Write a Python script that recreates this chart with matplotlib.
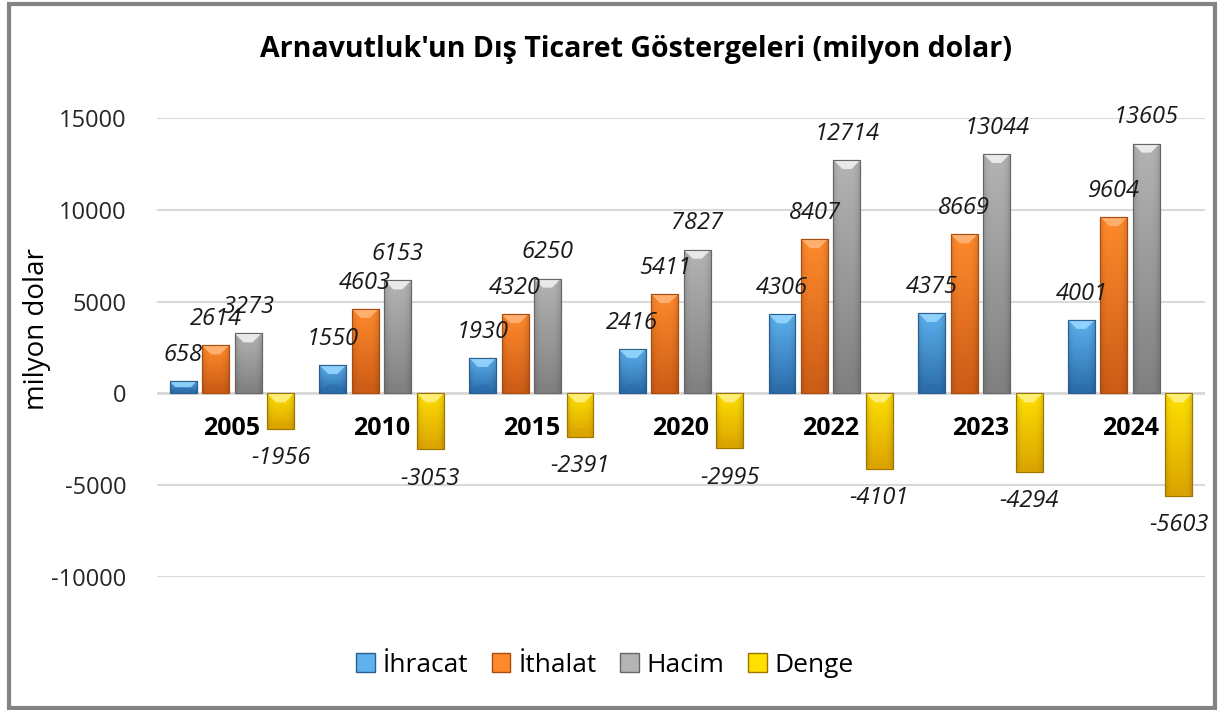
import numpy as np
import matplotlib
matplotlib.use("Agg")
import matplotlib.pyplot as plt
from matplotlib.patches import Polygon, Patch, Rectangle
from matplotlib.colors import to_rgb

plt.rcParams['font.family'] = ['Open Sans', 'DejaVu Sans']
plt.rcParams['axes.unicode_minus'] = False

# data
years = ['2005', '2010', '2015', '2020', '2022', '2023', '2024']
ihracat = [658, 1550, 1930, 2416, 4306, 4375, 4001]
ithalat = [2614, 4603, 4320, 5411, 8407, 8669, 9604]
hacim = [3273, 6153, 6250, 7827, 12714, 13044, 13605]
denge = [-1956, -3053, -2391, -2995, -4101, -4294, -5603]

series_names = ['İhracat', 'İthalat', 'Hacim', 'Denge']
series_values = [ihracat, ithalat, hacim, denge]

# (top colour, bottom colour, bevel colour, edge colour)
styles = [
    ('#5db2ee', '#2b6cab', '#9ad9ff', '#2a5d90'),
    ('#ff8a2c', '#cc5c16', '#ffb77a', '#a94b0e'),
    ('#b4b4b4', '#808080', '#f4f4f4', '#666666'),
    ('#ffe000', '#dca400', '#fff28a', '#9c7600'),
]

W, H = 1219, 710
fig = plt.figure(figsize=(W / 100, H / 100), dpi=100)
ax = fig.add_axes([157 / W, 1 - 577 / H, (1205 - 157) / W, (577 - 118) / H])
ax.set_xlim(-0.5, len(years) - 0.5)
ax.set_ylim(-10000, 15000)

# px -> data conversion for small bevel details
px_x = (len(years)) / (1205 - 157)
px_y = 25000 / (577 - 118)

ax.set_yticks(np.arange(-10000, 15001, 5000))
ax.yaxis.grid(True, color='#d9d9d9', linewidth=1.5)
ax.set_axisbelow(True)
ax.tick_params(axis='y', length=0, pad=22, labelsize=17, labelcolor='#262626')
ax.set_xticks([])
for s in ax.spines.values():
    s.set_visible(False)
ax.axhline(0, color='#d9d9d9', linewidth=2, zorder=1)

x = np.arange(len(years))
bw = 0.18
step = 0.217
offsets = (np.arange(4) - 1.5) * step


def shade(top, bottom, n=64):
    t = np.linspace(0, 1, n)[:, None]          # 0 at bottom, 1 at top
    c_top = np.array(to_rgb(top))
    c_bot = np.array(to_rgb(bottom))
    col = c_bot + (c_top - c_bot) * t           # vertical
    hx = np.linspace(-1, 1, 16)
    side = 1 - 0.12 * hx ** 4                   # darker edges
    img = col[:, None, :] * side[None, :, None]
    return np.clip(img, 0, 1)


for k, (name, vals) in enumerate(zip(series_names, series_values)):
    top_c, bot_c, bev_c, edge_c = styles[k]
    bars = ax.bar(x + offsets[k], vals, bw, color=top_c, edgecolor=edge_c,
                  linewidth=0.8, zorder=3)
    img = shade(top_c, bot_c)
    for b, v in zip(bars, vals):
        x0, x1 = b.get_x(), b.get_x() + b.get_width()
        y0, y1 = min(0, v), max(0, v)
        im = ax.imshow(img, extent=[x0, x1, y0, y1], origin='lower',
                       aspect='auto', zorder=3.5, interpolation='bilinear')
        im.set_clip_path(b)
        # light bevel on top edge, dark bevel on bottom edge
        hb = min(9 * px_y, (y1 - y0) / 2)
        ins = min(0.35 * (x1 - x0), hb / px_y * px_x)
        ax.add_patch(Polygon([(x0, y1), (x1, y1), (x1 - ins, y1 - hb), (x0 + ins, y1 - hb)],
                             closed=True, facecolor=bev_c, edgecolor='none',
                             alpha=0.85, zorder=4))
        ax.add_patch(Polygon([(x0, y0), (x1, y0), (x1 - ins, y0 + hb), (x0 + ins, y0 + hb)],
                             closed=True, facecolor=bot_c, edgecolor='none',
                             alpha=0.6, zorder=4))
        ax.add_patch(Rectangle((x0, y0), x1 - x0, y1 - y0, facecolor='none',
                               edgecolor=edge_c, linewidth=0.8, zorder=4.5))
        off = 19 if v >= 0 else -21
        ax.annotate(str(v), (b.get_x() + b.get_width() / 2, v),
                    xytext=(0, off), textcoords='offset points',
                    ha='center', va='center', fontsize=17, style='italic',
                    color='#1a1a1a', zorder=6, annotation_clip=False)

# category labels under the zero line
for xi, yr in zip(x, years):
    ax.annotate(yr, (xi, 0), xytext=(0, -25), textcoords='offset points',
                ha='center', va='center', fontsize=18, fontweight='bold',
                color='#000000', zorder=6)

fig.text(0.522, 1 - 50 / H, "Arnavutluk'un Dış Ticaret Göstergeleri (milyon dolar)",
         ha='center', va='center', fontsize=20.5, fontweight='bold', color='#000000')
fig.text(37 / W, 1 - 329 / H, 'milyon dolar', rotation=90, ha='center', va='center',
         fontsize=20, color='#000000')

handles = [Patch(facecolor=s[0], edgecolor=s[3]) for s in styles]
fig.legend(handles, series_names, loc='center', bbox_to_anchor=(605 / W, 1 - 665 / H),
           ncol=4, frameon=False, fontsize=19, handlelength=0.7, handleheight=0.7,
           handletextpad=0.3, columnspacing=0.9)

# outer border
fig.add_artist(Rectangle((9 / W, 2 / H), (1215 - 9) / W, (706 - 2) / H,
                         transform=fig.transFigure, fill=False,
                         edgecolor='#848484', linewidth=3))

fig.savefig('out.png', dpi=100)
